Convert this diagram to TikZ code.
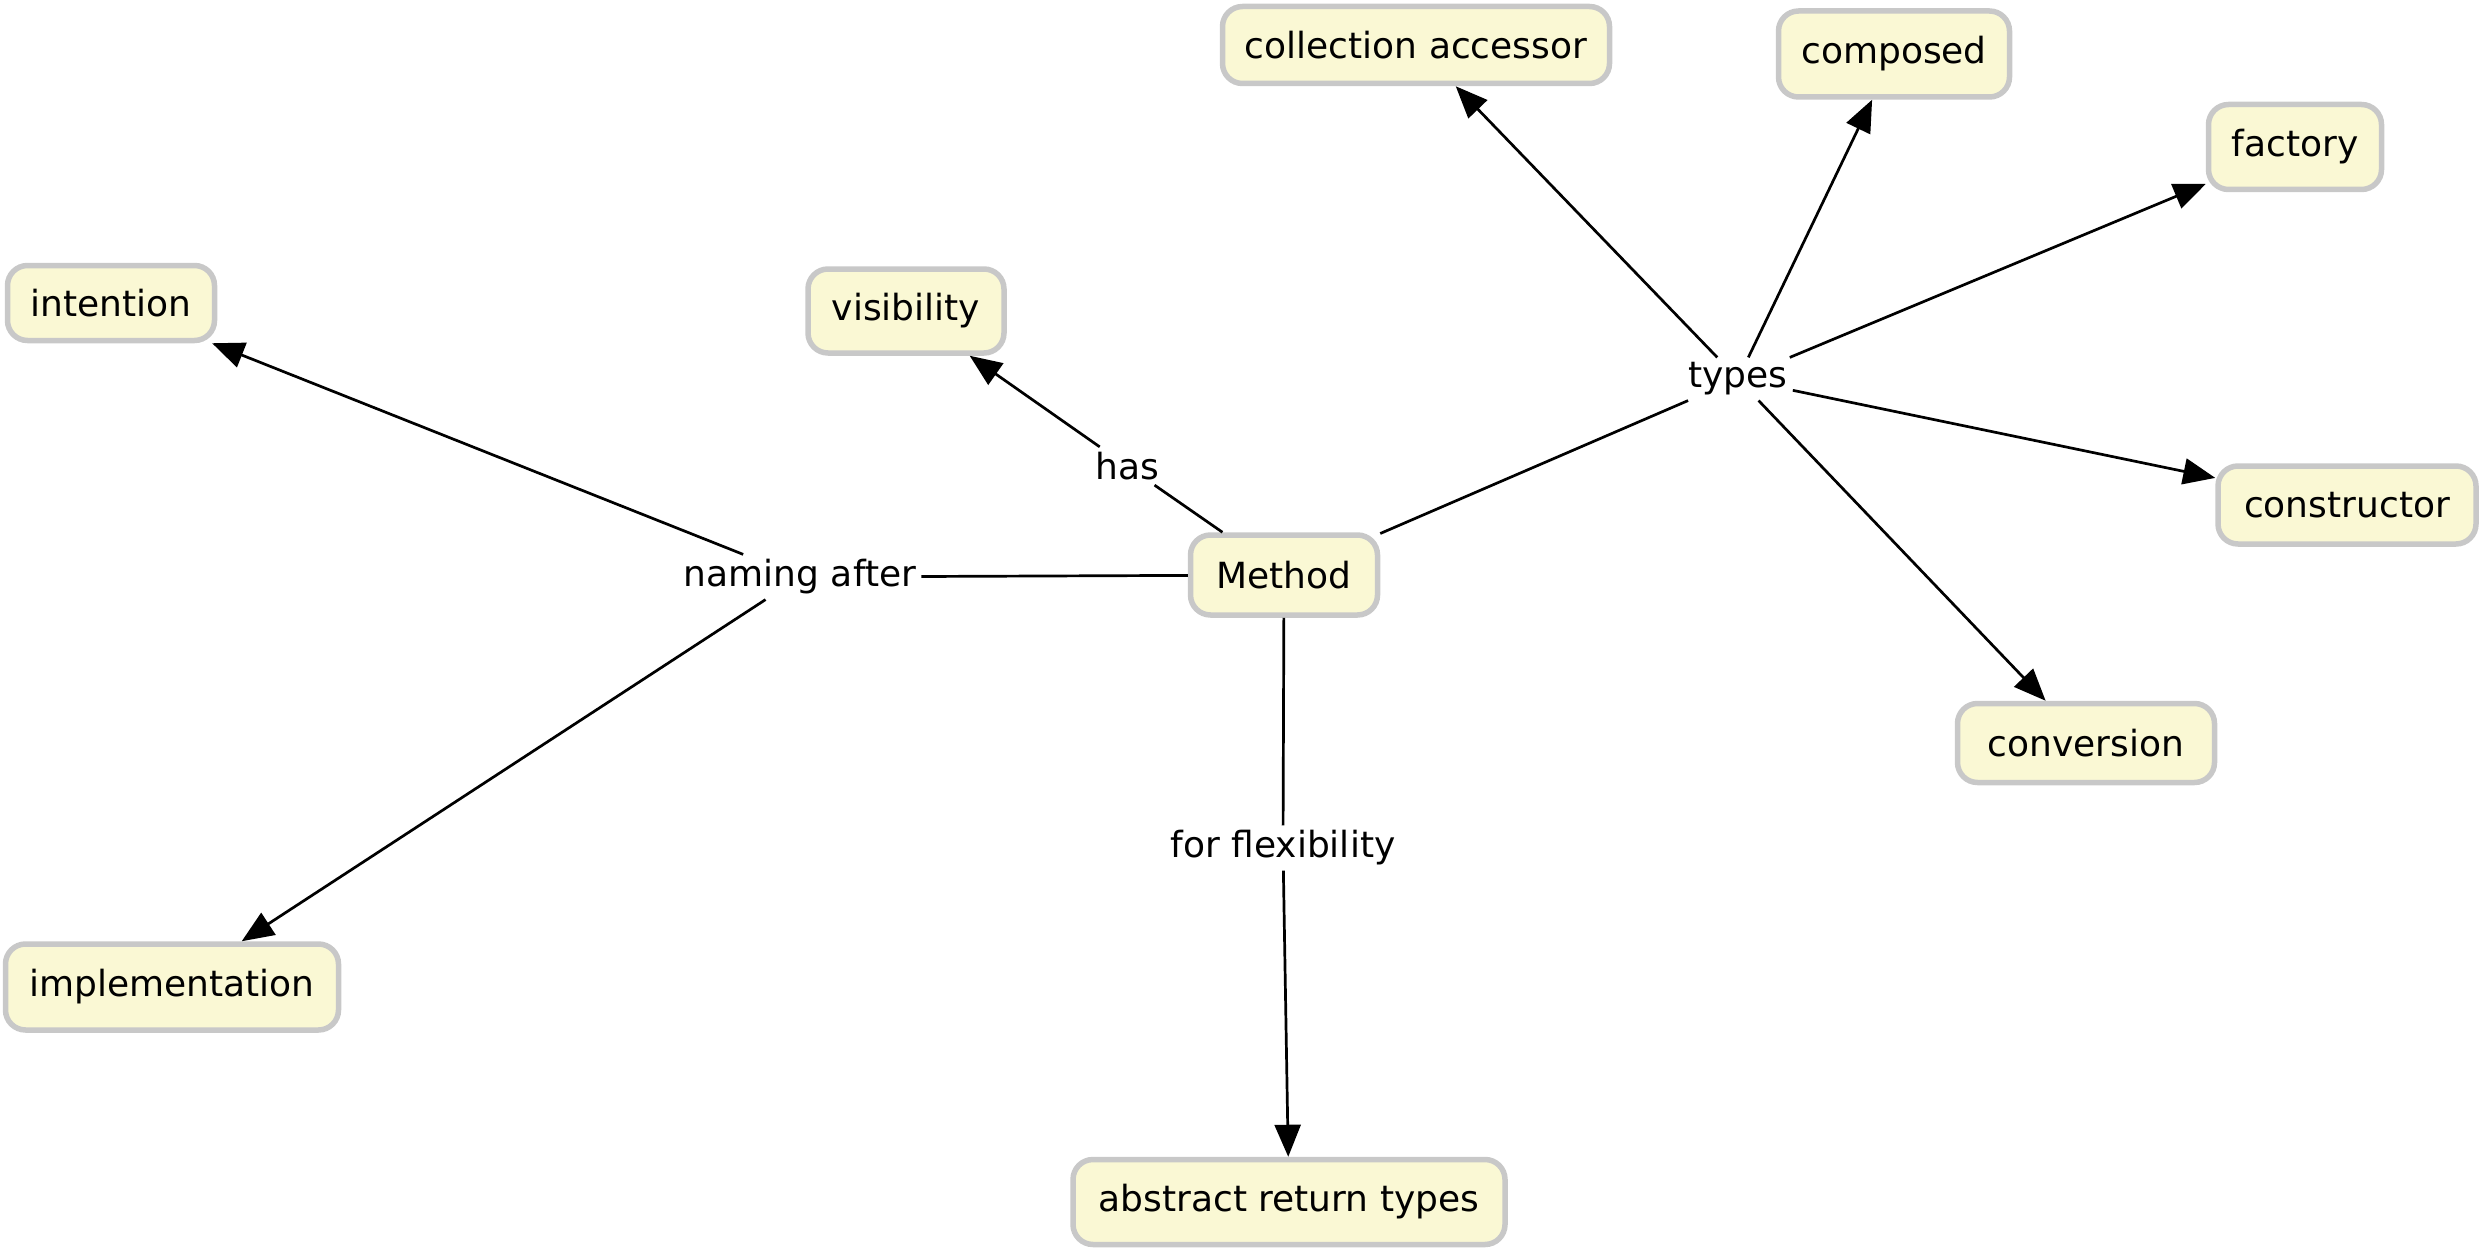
\documentclass[tikz,border=0pt]{standalone}
\usepackage{fontspec}
\setmainfont{DejaVu Sans}
\usetikzlibrary{arrows.meta}
\definecolor{boxfill}{RGB}{250,248,212}
\definecolor{boxline}{RGB}{200,200,200}
\tikzset{
  concept/.style={draw=boxline, line width=5.5pt, fill=boxfill, rounded corners=20pt,
    font=\fontsize{36}{42}\selectfont, inner sep=0pt, align=center},
  lbl/.style={font=\fontsize{36}{42}\selectfont, inner sep=5pt},
  link/.style={line width=2.7pt, draw=black},
  arr/.style={link, -{Triangle[length=32pt,width=26pt]}}
}
\begin{document}
\begin{tikzpicture}[x=1pt,y=-1pt]
\useasboundingbox (0,0) rectangle (2482,1252);
% concepts
\node[concept, minimum width=387pt, minimum height=77pt] (ca)   at (1416,45)  {collection accessor};
\node[concept, minimum width=231pt, minimum height=86pt] (comp) at (1894,54)  {composed};
\node[concept, minimum width=173pt, minimum height=85pt] (fac)  at (2295,147) {factory};
\node[concept, minimum width=207pt, minimum height=75pt] (int)  at (111,303)  {intention};
\node[concept, minimum width=196pt, minimum height=84pt] (vis)  at (906,311)  {visibility};
\node[concept, minimum width=258pt, minimum height=78pt] (cons) at (2347,505) {constructor};
\node[concept, minimum width=187pt, minimum height=80pt] (meth) at (1284,575) {Method};
\node[concept, minimum width=257pt, minimum height=79pt] (conv) at (2086,743) {conversion};
\node[concept, minimum width=333pt, minimum height=86pt] (impl) at (172,987)  {implementation};
\node[concept, minimum width=432pt, minimum height=85pt] (abs)  at (1289,1202) {abstract return types};
% linking phrases
\node[lbl] (types)  at (1738,379) {types};
\node[lbl] (has)    at (1127,466) {has};
\node[lbl] (naming) at (800,577)  {naming after};
\node[lbl] (flex)   at (1283,848) {for flexibility};
% connectors
\draw[link] (meth) -- (types);
\draw[arr] (types) -- (ca);
\draw[arr] (types) -- (comp);
\draw[arr] (types) -- (fac);
\draw[arr] (types) -- (cons);
\draw[arr] (types) -- (conv);
\draw[link] (meth) -- (has);
\draw[arr] (has) -- (vis);
\draw[link] (meth) -- (naming);
\draw[arr] (naming) -- (int);
\draw[arr] (naming) -- (impl);
\draw[link] (meth) -- (flex);
\draw[arr] (flex) -- (abs);
\end{tikzpicture}
\end{document}
